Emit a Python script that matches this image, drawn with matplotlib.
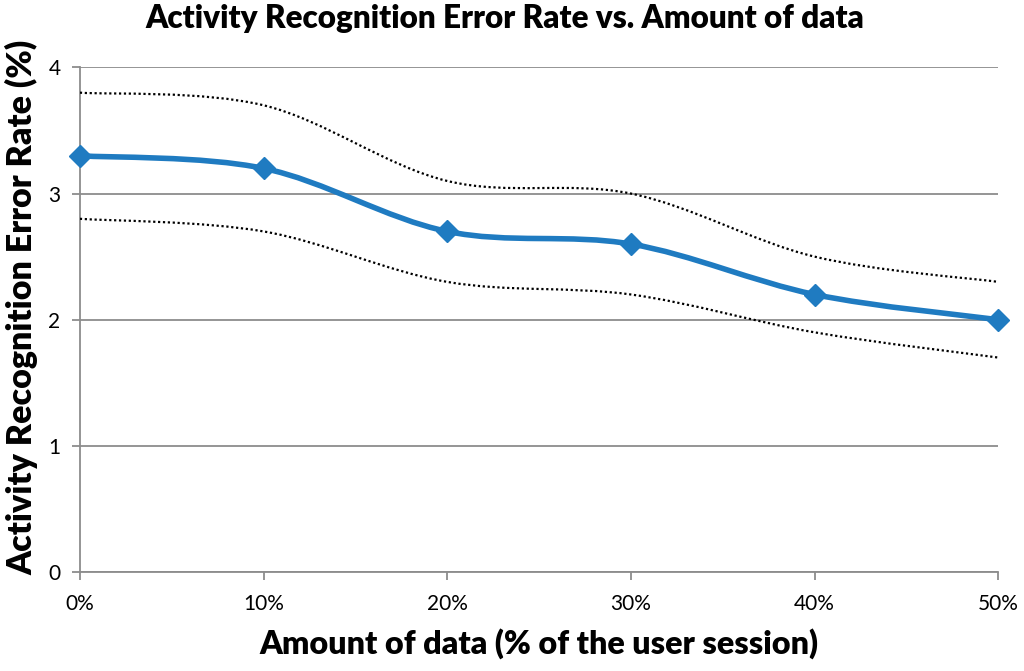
import numpy as np
import matplotlib
matplotlib.use("Agg")
from matplotlib import pyplot as plt
from matplotlib.path import Path
from matplotlib.patches import PathPatch

# data
amount = [0, 10, 20, 30, 40, 50]
x_labels = ["0%", "10%", "20%", "30%", "40%", "50%"]
error_rate = [3.3, 3.2, 2.7, 2.6, 2.2, 2.0]
upper = [3.8, 3.7, 3.1, 3.0, 2.5, 2.3]
lower = [2.8, 2.7, 2.3, 2.2, 1.9, 1.7]

plt.rcParams['font.family'] = ['Lato', 'DejaVu Sans']


def smooth_path(xs, ys):
    # excel-like smoothed line: cubic bezier through the points
    pts = np.column_stack([xs, ys]).astype(float)
    n = len(pts)
    verts = [pts[0]]
    codes = [Path.MOVETO]
    for i in range(n - 1):
        p0 = pts[max(i - 1, 0)]
        p1 = pts[i]
        p2 = pts[i + 1]
        p3 = pts[min(i + 2, n - 1)]
        c1 = p1 + (p2 - p0) / 6.0
        c2 = p2 - (p3 - p1) / 6.0
        verts += [c1, c2, p2]
        codes += [Path.CURVE4] * 3
    return Path(verts, codes)


fig = plt.figure(figsize=(10.24, 6.71), dpi=100)
ax = fig.add_axes([0.078, 0.1475, 0.897, 0.752])

ax.add_patch(PathPatch(smooth_path(amount, upper), fill=False, ec='black',
                       lw=1.6, ls=(0, (1, 1.2)), zorder=3))
ax.add_patch(PathPatch(smooth_path(amount, lower), fill=False, ec='black',
                       lw=1.6, ls=(0, (1, 1.2)), zorder=3))
ax.add_patch(PathPatch(smooth_path(amount, error_rate), fill=False, ec='#1f7bc1',
                       lw=4.0, capstyle='round', zorder=4))
ax.plot(amount, error_rate, ls='none', marker='D', ms=11, color='#1f7bc1',
        zorder=5, clip_on=False)

ax.set_xlim(0, 50)
ax.set_ylim(0, 4)
ax.set_xticks(amount)
ax.set_xticklabels(x_labels)
ax.set_yticks([0, 1, 2, 3, 4])
ax.grid(axis='y', color='#8c8c8c', lw=1.3)
ax.set_axisbelow(True)
for s in ['top', 'right']:
    ax.spines[s].set_visible(False)
for s in ['left', 'bottom']:
    ax.spines[s].set_color('#8c8c8c')
    ax.spines[s].set_linewidth(1.3)
ax.tick_params(axis='both', colors='#8c8c8c', length=6, width=1.3,
               labelsize=15, labelcolor='black')
ax.tick_params(axis='x', pad=10)
ax.tick_params(axis='y', pad=8)

fig.text(0.493, 0.972, "Activity Recognition Error Rate vs. Amount of data",
         fontsize=22.7, fontweight='heavy', ha='center', va='center')
ax.set_xlabel("Amount of data (% of the user session)", fontsize=23.2,
              fontweight='heavy', labelpad=10)
ax.set_ylabel("Activity Recognition Error Rate (%)", fontsize=24.5,
              fontweight='heavy')
ax.yaxis.set_label_coords(-0.045, 0.525)

fig.savefig("out.png", dpi=100)
